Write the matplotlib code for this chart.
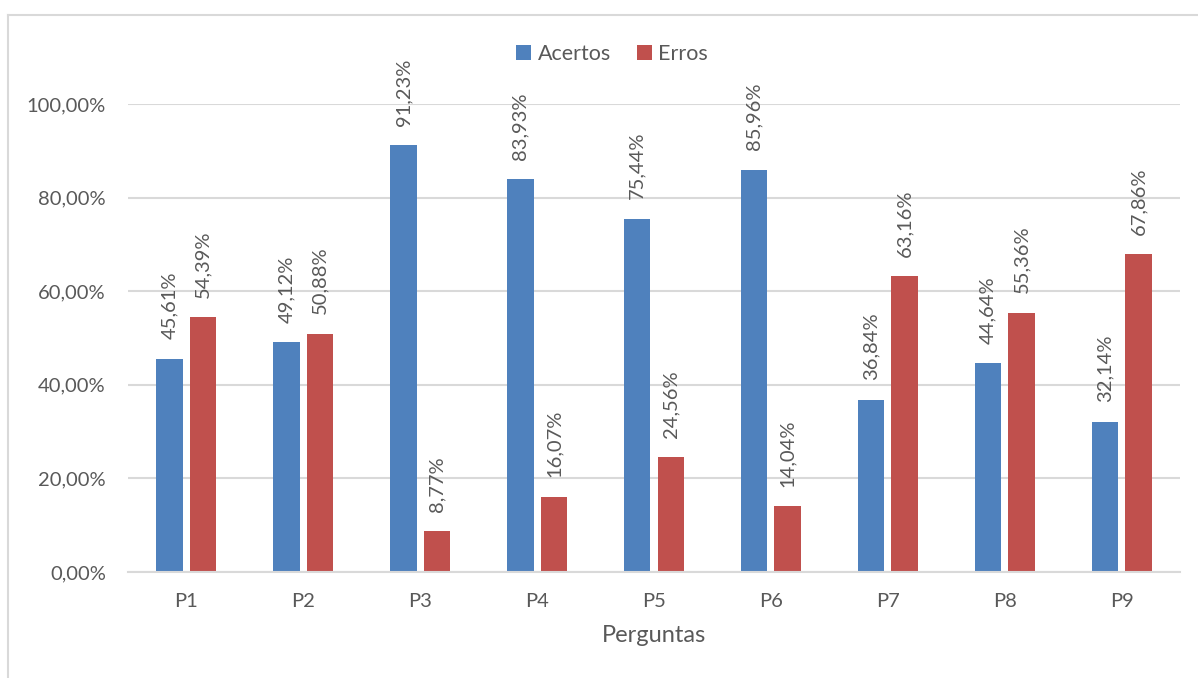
import numpy as np
import matplotlib
matplotlib.use("Agg")
import matplotlib.pyplot as plt

# percentage of right / wrong answers per question
perguntas = ["P1", "P2", "P3", "P4", "P5", "P6", "P7", "P8", "P9"]
acertos = [45.61, 49.12, 91.23, 83.93, 75.44, 85.96, 36.84, 44.64, 32.14]
erros = [54.39, 50.88, 8.77, 16.07, 24.56, 14.04, 63.16, 55.36, 67.86]
yticks = [0, 20, 40, 60, 80, 100]

blue = "#4F81BD"
red = "#C0504D"
txt = "#595959"

plt.rcParams["font.family"] = ["Lato", "DejaVu Sans"]

fig = plt.figure(figsize=(11.98, 6.78), dpi=100)
ax = fig.add_axes([128 / 1198, 1 - 572 / 678, (1180 - 128) / 1198, (572 - 104) / 678])

# thin chart frame (left + top only visible)
fig.add_artist(plt.Line2D([8 / 1198, 8 / 1198], [1 - 15 / 678, 0], color="#d9d9d9", lw=1.5))
fig.add_artist(plt.Line2D([8 / 1198, 1], [1 - 15 / 678, 1 - 15 / 678], color="#d9d9d9", lw=1.5))

x = np.arange(len(perguntas))
w = 0.227
off = (w + 0.06) / 2
ax.bar(x - off, acertos, w, color=blue, label="Acertos", zorder=3)
ax.bar(x + off, erros, w, color=red, label="Erros", zorder=3)

def fmt(v):
    return ("%.2f%%" % v).replace(".", ",")

for xs, vals in ((x - off, acertos), (x + off, erros)):
    for xi, v in zip(xs, vals):
        ax.annotate(fmt(v), (xi, v), xytext=(0, 14), textcoords="offset points",
                    rotation=90, ha="center", va="bottom", fontsize=14.5,
                    color=txt, clip_on=False)

ax.set_xlim(-0.5, len(perguntas) - 0.5)
ax.set_ylim(0, 100)
ax.set_yticks(yticks)
ax.set_yticklabels([("%.2f%%" % t).replace(".", ",") for t in yticks])
ax.set_xticks(x)
ax.set_xticklabels(perguntas)
ax.tick_params(axis="both", length=0, labelsize=14.5, colors=txt)
ax.tick_params(axis="y", pad=16)
ax.tick_params(axis="x", pad=15)
ax.yaxis.grid(True, color="#d9d9d9", lw=1.5, zorder=0)
for s in ["top", "right", "left"]:
    ax.spines[s].set_visible(False)
ax.spines["bottom"].set_color("#d9d9d9")
ax.spines["bottom"].set_linewidth(1.5)
ax.spines["bottom"].set_zorder(4)

ax.set_xlabel("Perguntas", fontsize=17, color=txt, labelpad=11)

ax.legend(loc="center", bbox_to_anchor=(612 / 1198, 1 - 54 / 678),
          bbox_transform=fig.transFigure, ncol=2, frameon=False,
          fontsize=15.5, handlelength=0.7, handleheight=0.7,
          handletextpad=0.3, columnspacing=1.2, labelcolor=txt)

fig.savefig("out.png", dpi=100, facecolor="white")
